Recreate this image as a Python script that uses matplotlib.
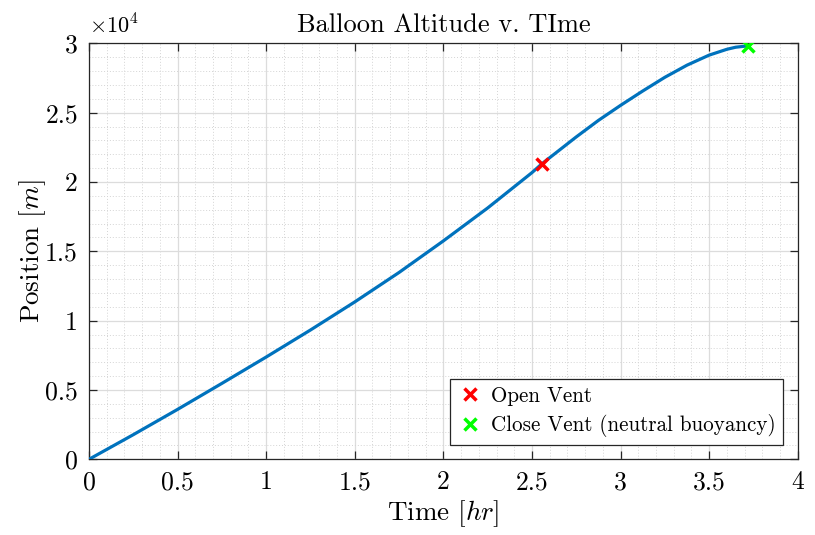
#Balloon altitude vs time, MATLAB-style figure
import numpy as np
import matplotlib
matplotlib.use("Agg")
import matplotlib.pyplot as plt
from matplotlib.ticker import FuncFormatter, MultipleLocator

#Values
time_hr = [0, 0.25, 0.5, 0.75, 1.0, 1.25, 1.5, 1.75, 2.0, 2.25, 2.5, 2.555,
           2.75, 2.875, 3.0, 3.125, 3.25, 3.375, 3.5, 3.6, 3.65, 3.72]
altitude_m = [0, 1775, 3600, 5475, 7375, 9325, 11350, 13475, 15750, 18125, 20675, 21300,
              23250, 24440, 25525, 26560, 27550, 28425, 29150, 29570, 29720, 29820]
open_vent_t = [2.555]
open_vent_alt = [21300]
close_vent_t = [3.72]
close_vent_alt = [29820]
x_ticks = [0, 0.5, 1, 1.5, 2, 2.5, 3, 3.5, 4]
y_ticks = [0, 5000, 10000, 15000, 20000, 25000, 30000]

plt.rcParams['font.family'] = 'serif'
plt.rcParams['font.serif'] = ['cmr10', 'DejaVu Serif']
plt.rcParams['mathtext.fontset'] = 'cm'
plt.rcParams['axes.formatter.use_mathtext'] = True

fig = plt.figure(figsize=(8.15, 5.35), dpi=100)
ax = fig.add_axes([0.1092, 0.1415, 0.9788 - 0.1092, 0.919 - 0.1415])

#Main curve and the two vent markers
ax.plot(time_hr, altitude_m, color='#0072BD', lw=2.3, zorder=3, solid_joinstyle='round')
ax.plot(open_vent_t, open_vent_alt, 'x', color='#FF0000', ms=8, mew=2.5, zorder=4,
        label='Open Vent')
ax.plot(close_vent_t, close_vent_alt, 'x', color='#00FF00', ms=8, mew=2.5, zorder=4,
        label='Close Vent (neutral buoyancy)')

ax.set_xlim(0, 4)
ax.set_ylim(0, 30000)
ax.set_xticks(x_ticks)
ax.set_yticks(y_ticks)
ax.xaxis.set_minor_locator(MultipleLocator(0.1))
ax.yaxis.set_minor_locator(MultipleLocator(1000))
ax.xaxis.set_major_formatter(FuncFormatter(lambda v, p: f"{v:g}"))
ax.yaxis.set_major_formatter(FuncFormatter(lambda v, p: f"{v / 1e4:g}"))

#Grid on + grid minor
ax.grid(True, which='major', color='#dcdcdc', lw=0.9, zorder=0)
ax.grid(True, which='minor', color='#d4d4d4', lw=0.7, ls=(0, (1, 2)), zorder=0)
ax.set_axisbelow(True)

ax.tick_params(which='major', direction='in', length=6, width=0.9, color='#262626',
               top=True, right=True, labelsize=18.5, pad=8)
ax.tick_params(which='minor', length=0, top=True, right=True)
for s in ax.spines.values():
    s.set_color('#262626')
    s.set_linewidth(0.9)

ax.set_xlabel('Time [$hr$]', fontsize=19.5, labelpad=3)
ax.set_ylabel('Position [$m$]', fontsize=19.5, labelpad=-2)
ax.set_title('Balloon Altitude v. TIme', fontsize=19, pad=8)
ax.text(0.0, 1.015, r'$\times 10^4$', transform=ax.transAxes, fontsize=16,
        ha='left', va='bottom')

leg = ax.legend(loc='lower right', fontsize=15.2, fancybox=False, framealpha=1,
                edgecolor='#262626', borderaxespad=0.7, handletextpad=0.4,
                handlelength=1.2, borderpad=0.35, labelspacing=0.4)
leg.get_frame().set_linewidth(0.9)

fig.savefig('out.png', dpi=100)
